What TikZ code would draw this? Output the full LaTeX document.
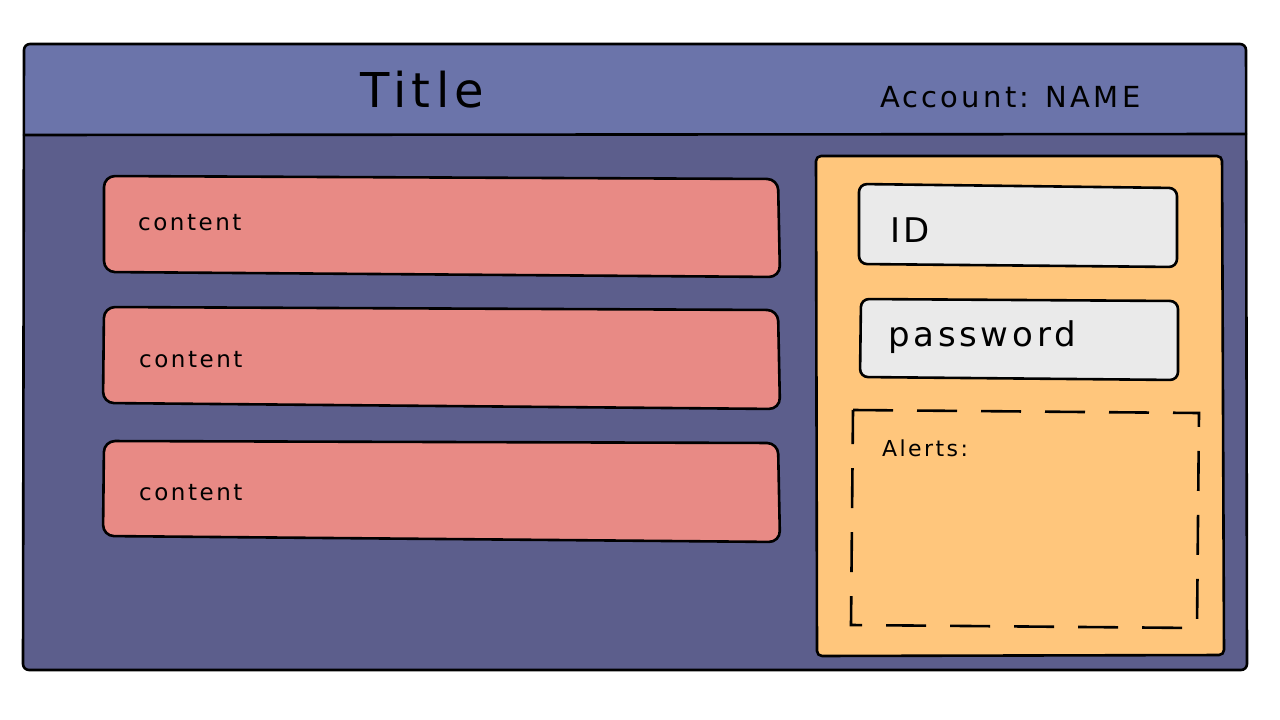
\documentclass[tikz,border=0pt]{standalone}
\usepackage{fontspec}
\setmainfont{DejaVu Sans}[LetterSpace=11]
\definecolor{headerblue}{HTML}{6B74AA}
\definecolor{bodyblue}{HTML}{5C5E8C}
\definecolor{cardpink}{HTML}{E88A85}
\definecolor{panelorange}{HTML}{FFC67C}
\definecolor{fieldgray}{HTML}{EAEAEA}
\tikzset{
  outline/.style={draw=black, line width=2.6pt, line join=round, line cap=round},
  card/.style={outline, fill=cardpink, rounded corners=11pt},
  field/.style={outline, fill=fieldgray, rounded corners=8pt},
  panel/.style={outline, fill=panelorange, rounded corners=5pt},
  alertbox/.style={draw=black, line width=2.6pt, dash pattern=on 40pt off 24pt, line cap=butt},
  label/.style={inner sep=0pt, anchor=base west, text=black},
}
\begin{document}
\begin{tikzpicture}[x=1pt, y=-1pt]
\useasboundingbox (0,0) rectangle (1280,720);
\fill[white] (0,0) rectangle (1280,720);

% window body and header band
\fill[bodyblue, rounded corners=6pt] (24,44) -- (1246,44) -- (1247,670) -- (23,670) -- cycle;
\fill[headerblue] (24,135) [rounded corners=6pt] -- (24,44) -- (1246,44) [sharp corners] -- (1246,135) -- cycle;
\draw[outline] (24,135) -- (1246,134);
\draw[outline, rounded corners=6pt] (24,44) -- (1246,44) -- (1247,670) -- (23,670) -- cycle;

\node[label, font=\fontsize{48}{48}\selectfont] (title) at (360,107) {Title};
\node[label, font=\fontsize{29}{29}\selectfont] (account) at (880,107) {Account: NAME};

% content cards
\draw[card] (104,176) -- (778,179) -- (780,277) -- (104,272) -- cycle;
\draw[card] (104,307) -- (778,310) -- (780,409) -- (103,403) -- cycle;
\draw[card] (104,441) -- (778,443) -- (780,542) -- (103,536) -- cycle;
\node[label, font=\fontsize{23}{23}\selectfont] (content1) at (138,230) {content};
\node[label, font=\fontsize{23}{23}\selectfont] (content2) at (139,367) {content};
\node[label, font=\fontsize{23}{23}\selectfont] (content3) at (139,500) {content};

% login panel
\draw[panel] (816,156) -- (1222,156) -- (1224,655) -- (817,656) -- cycle;
\draw[field] (859,184) -- (1177,188) -- (1177,267) -- (859,264) -- cycle;
\draw[field] (861,299) -- (1178,301) -- (1178,380) -- (860,377) -- cycle;
\node[label, font=\fontsize{34}{34}\selectfont] (id) at (890,242) {ID};
\node[label, font=\fontsize{34}{34}\selectfont] (password) at (888,346) {password};

% alerts area
\draw[alertbox] (853,410) -- (1199,413) -- (1197,628) -- (851,625) -- cycle;
\node[label, font=\fontsize{22}{22}\selectfont] (alerts) at (882,456) {Alerts:};
\end{tikzpicture}
\end{document}
